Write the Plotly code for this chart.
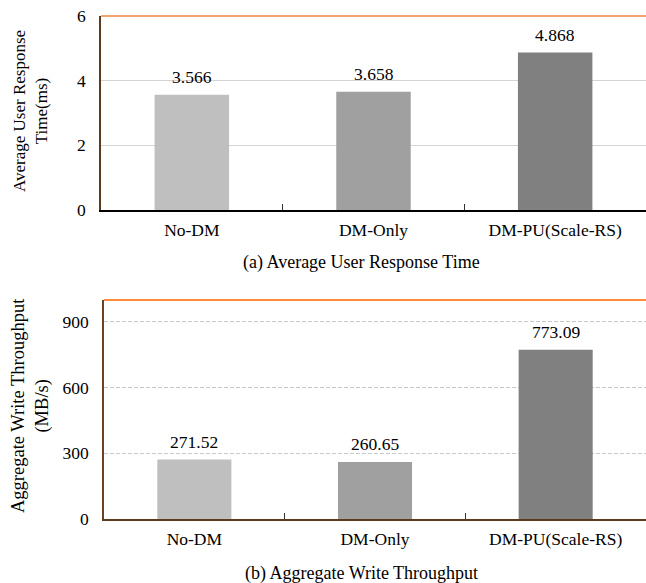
import plotly.graph_objects as go

categories = ["No-DM", "DM-Only", "DM-PU(Scale-RS)"]
response_time = [3.566, 3.658, 4.868]
throughput = [271.52, 260.65, 773.09]
bar_colors = ["#BFBFBF", "#A0A0A0", "#808080"]
top_ticks = [0, 2, 4, 6]
bottom_ticks = [0, 300, 600, 900]

W, H = 646, 583
FONT = "Liberation Serif"
FS = 17.5
FT = 18
FY = 17
FY2 = 18.5

def py(pix):
    return 1 - pix / H

fig = go.Figure()
fig.add_trace(go.Bar(
    x=categories, y=response_time, marker=dict(color=bar_colors, line=dict(width=0)),
    xaxis="x", yaxis="y", showlegend=False, hoverinfo="skip"))
fig.add_trace(go.Bar(
    x=categories, y=throughput, marker=dict(color=bar_colors, line=dict(width=0)),
    xaxis="x2", yaxis="y2", showlegend=False, hoverinfo="skip"))

for c, v in zip(categories, response_time):
    fig.add_annotation(x=c, y=v, xref="x", yref="y", text=f"{v:.3f}", showarrow=False,
                       yanchor="bottom", yshift=6, font=dict(family=FONT, size=FS, color="black"))
for c, v in zip(categories, throughput):
    fig.add_annotation(x=c, y=v, xref="x2", yref="y2", text=f"{v:.2f}", showarrow=False,
                       yanchor="bottom", yshift=6, font=dict(family=FONT, size=FS, color="black"))

top_dom = [py(210), py(16)]
bot_dom = [py(519), py(300)]
x1_dom = [101 / W, 1.0]
x2_dom = [104 / W, 1.0]

tickfont = dict(family=FONT, size=FS, color="black")

fig.update_layout(
    template="none",
    width=W, height=H, margin=dict(l=0, r=0, t=0, b=0, autoexpand=False),
    paper_bgcolor="white", plot_bgcolor="white",
    bargap=0.59,
    font=dict(family=FONT, size=FS, color="black"),
    xaxis=dict(domain=x1_dom, anchor="y", showline=True, linecolor="black", linewidth=1.5,
               ticks="inside", tickson="boundaries", ticklen=6, tickcolor="#333333",
               tickfont=tickfont, showgrid=False, zeroline=False, automargin=False,
               ticklabelstandoff=3),
    yaxis=dict(domain=top_dom, anchor="x", range=[0, 6], tickvals=top_ticks,
               showline=True, linecolor="#5B3A1E", linewidth=1.5,
               showgrid=True, gridcolor="#D4D4D4", gridwidth=1, zeroline=False,
               ticks="", tickfont=tickfont, ticklabelstandoff=10, automargin=False),
    xaxis2=dict(domain=x2_dom, anchor="y2", showline=True, linecolor="#5B3A1E", linewidth=1.5,
                ticks="inside", tickson="boundaries", ticklen=6, tickcolor="#333333",
                tickfont=tickfont, showgrid=False, zeroline=False, automargin=False,
                ticklabelstandoff=3),
    yaxis2=dict(domain=bot_dom, anchor="x2", range=[0, 1000], tickvals=bottom_ticks,
                showline=True, linecolor="#6B4226", linewidth=1.5,
                showgrid=True, gridcolor="#C8C8C8", gridwidth=1, griddash="4px,2px",
                zeroline=False, ticks="", tickfont=tickfont, ticklabelstandoff=10,
                automargin=False),
)

# orange top borders
fig.add_shape(type="line", xref="paper", yref="paper", x0=x1_dom[0], x1=1, y0=top_dom[1], y1=top_dom[1],
              line=dict(color="#F2A66E", width=2))
fig.add_shape(type="line", xref="paper", yref="paper", x0=x2_dom[0], x1=1, y0=bot_dom[1], y1=bot_dom[1],
              line=dict(color="#FF8A3D", width=2))

# y-axis titles
fig.add_annotation(text="Average User Response<br>Time(ms)", xref="paper", yref="paper",
                   x=30 / W, y=py(111), textangle=-90, showarrow=False,
                   font=dict(family=FONT, size=FY, color="black"), xanchor="center", yanchor="middle")
fig.add_annotation(text="Aggregate Write Throughput<br>(MB/s)", xref="paper", yref="paper",
                   x=30 / W, y=py(406), textangle=-90, showarrow=False,
                   font=dict(family=FONT, size=FY2, color="black"), xanchor="center", yanchor="middle")

# captions
fig.add_annotation(text="(a) Average User Response Time", xref="paper", yref="paper",
                   x=361 / W, y=py(262), showarrow=False,
                   font=dict(family=FONT, size=FT, color="black"), xanchor="center", yanchor="middle")
fig.add_annotation(text="(b) Aggregate Write Throughput", xref="paper", yref="paper",
                   x=361 / W, y=py(573), showarrow=False,
                   font=dict(family=FONT, size=FT, color="black"), xanchor="center", yanchor="middle")

fig.write_html("out.html", config={"displayModeBar": False},
               post_script="document.body.style.margin='0';document.body.style.padding='0';document.body.style.overflow='hidden';")
